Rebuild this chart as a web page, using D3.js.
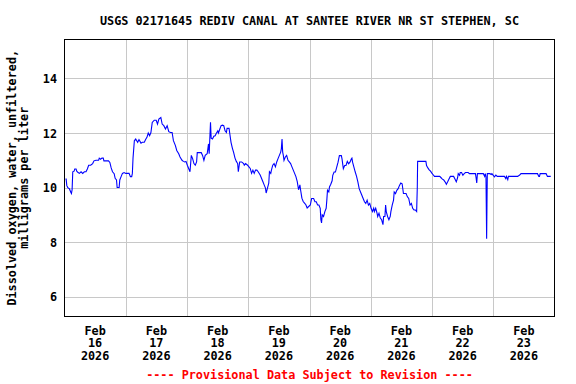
<!DOCTYPE html>
<html>
<head>
<meta charset="utf-8">
<script src="https://cdn.jsdelivr.net/npm/d3@7"></script>
<style>
html,body{margin:0;padding:0;background:#fff;}
svg{display:block;}
text{font-family:"DejaVu Sans Mono","Liberation Mono",monospace;font-weight:bold;}
</style>
</head>
<body>
<div id="chart"></div>
<script>
const title = "USGS 02171645 REDIV CANAL AT SANTEE RIVER NR ST STEPHEN, SC";
const yLabelLines = ["Dissolved oxygen, water, unfiltered,", "milligrams per liter"];
const footer = "---- Provisional Data Subject to Revision ----";
const startDate = "2026-02-16T00:00:00Z";
const dayLabels = ["16","17","18","19","20","21","22","23"];
const yTicks = [6, 8, 10, 12, 14];
const yDomain = [5.29, 15.43];

// hours after Feb 16 00:00
const hours = [
0.39,0.65,0.91,1.30,1.95,2.46,2.72,2.98,3.24,3.76,4.02,4.54,4.80,5.32,5.84,6.49,7.13,7.78,8.43,8.95,
9.47,10.25,11.03,11.55,12.32,13.36,13.62,14.14,14.66,15.18,15.44,16.22,17.25,17.77,18.29,18.81,19.46,19.85,20.37,20.63,
21.41,21.66,22.18,22.70,23.35,24.0,24.65,25.30,25.82,26.33,26.59,26.85,27.37,27.89,28.67,29.19,29.97,30.49,31.27,31.78,
32.30,32.82,33.34,33.86,34.38,35.16,35.93,36.45,36.97,37.75,38.27,38.92,39.57,40.22,40.86,41.51,42.16,42.68,43.46,43.98,
44.76,45.27,46.05,46.57,47.09,47.61,48.13,48.65,49.17,49.69,50.20,50.72,51.24,51.76,52.02,52.80,53.58,54.10,54.62,55.13,
55.91,56.43,56.69,57.21,57.47,57.99,58.51,59.03,59.55,60.07,60.32,60.84,61.36,61.88,62.40,62.92,63.44,63.70,64.48,64.73,
65.25,65.77,66.29,66.81,67.33,67.85,68.11,68.63,69.41,70.18,70.44,70.96,71.74,72.26,72.78,73.30,73.82,74.33,74.85,75.37,
75.89,76.67,77.19,77.71,78.23,78.75,79.01,79.53,80.04,80.30,80.82,81.08,81.60,82.12,82.64,83.16,83.67,84.19,84.71,84.97,
85.23,85.49,85.75,86.01,86.53,87.05,87.57,88.09,88.60,89.12,89.64,90.16,90.68,91.20,91.72,92.24,92.50,93.02,93.53,94.05,
94.57,95.09,96.32,96.84,97.62,98.13,98.65,99.17,99.69,100.2,100.46,100.72,100.98,101.5,102.02,102.53,102.79,103.05,103.57,103.83,
104.34,104.86,105.12,105.64,106.16,106.67,107.19,107.45,107.71,108.48,108.74,109.26,109.78,110.3,110.81,111.33,111.85,112.37,112.62,112.88,
113.4,113.92,114.44,114.95,115.47,115.99,116.51,117.02,117.54,118.06,118.58,119.09,119.61,120.13,120.65,121.16,121.42,121.94,122.46,122.72,
123.23,123.75,124.27,124.79,125.04,125.56,125.82,126.08,126.6,127.12,127.63,127.89,128.41,128.93,129.19,129.7,130.22,130.74,131.26,131.77,
132.29,132.81,133.33,133.84,134.36,134.88,135.4,135.91,136.43,136.95,137.47,137.98,138.24,138.37,139.02,141.09,141.61,141.86,142.38,142.9,
143.42,143.93,144.45,144.97,146.52,147.04,147.56,148.07,148.59,149.11,149.63,150.14,150.66,151.18,151.7,152.47,152.99,153.51,154.03,154.28,
154.8,155.06,155.58,156.1,156.61,157.13,158.17,158.68,159.46,161.01,161.27,161.53,161.79,163.34,164.12,164.63,164.89,165.15,165.41,165.54,
165.67,166.7,167.22,167.48,168.0,168.51,169.03,169.55,172.4,172.92,173.17,173.69,173.95,174.99,177.57,178.35,178.87,185.34,185.86,186.12,
186.38,188.71,189.23,190.52
];
const oxygen = [
10.31,10.31,10.07,10.0,9.95,9.83,9.78,9.92,10.58,10.60,10.68,10.68,10.60,10.55,10.52,10.58,10.52,10.58,10.58,10.68,
10.82,10.82,10.88,10.98,11.0,11.0,11.08,11.04,11.08,11.08,10.98,10.98,10.98,10.92,10.72,10.58,10.51,10.34,10.28,10.0,
10.0,10.28,10.40,10.52,10.55,10.52,10.52,10.52,10.40,10.40,10.52,11.08,11.72,11.78,11.66,11.76,11.63,11.66,11.66,11.76,
11.84,12.0,11.90,12.02,12.39,12.47,12.47,12.33,12.51,12.57,12.33,12.27,12.15,12.27,12.05,12.02,12.02,11.72,11.54,11.36,
11.24,11.12,11.0,10.96,10.94,10.96,10.82,10.70,10.58,11.18,11.06,10.88,10.82,10.94,11.28,11.28,11.28,11.18,11.0,11.18,
11.24,11.60,11.24,12.39,11.81,11.78,11.88,11.90,12.0,12.08,12.0,12.14,12.27,12.29,12.27,12.08,12.02,12.17,12.17,12.0,
11.66,11.45,11.28,11.08,10.96,10.88,10.58,10.94,10.94,10.88,10.82,10.88,10.82,10.76,10.70,10.52,10.64,10.52,10.64,10.64,
10.58,10.46,10.34,10.22,10.10,9.98,9.80,9.98,10.16,10.58,10.52,10.64,10.82,10.88,10.76,10.94,11.06,11.18,11.30,11.42,
11.78,11.30,11.18,11.0,11.12,11.18,11.0,10.94,10.88,10.76,10.64,10.52,10.40,10.22,9.92,10.10,9.92,9.61,9.49,9.43,
9.37,9.25,9.36,9.60,9.60,9.48,9.48,9.36,9.36,9.24,8.82,8.70,9.0,8.94,9.12,9.24,9.54,9.90,9.84,10.02,
10.12,10.25,10.45,10.57,10.57,10.75,10.93,11.05,11.17,11.17,11.05,10.69,10.81,10.81,10.96,10.87,10.93,11.05,11.08,10.93,
10.75,10.57,10.41,10.21,9.96,9.84,9.72,9.60,9.48,9.42,9.54,9.36,9.42,9.24,9.12,9.24,9.12,9.24,9.06,8.94,
9.06,8.88,8.82,8.64,8.94,8.94,9.36,9.12,8.94,8.82,8.94,9.12,9.36,9.54,9.84,9.78,9.90,9.96,10.08,10.17,
10.14,9.78,9.78,9.78,9.66,9.60,9.36,9.42,9.24,9.18,9.18,9.12,10.02,10.96,10.96,10.96,10.96,10.81,10.72,10.65,
10.60,10.53,10.47,10.41,10.41,10.41,10.36,10.31,10.28,10.21,10.12,10.21,10.31,10.41,10.41,10.41,10.31,10.21,10.36,10.51,
10.45,10.55,10.55,10.45,10.51,10.55,10.55,10.51,10.51,10.51,10.36,10.17,10.51,10.51,10.51,10.41,10.51,10.39,8.12,9.36,
10.51,10.51,10.48,10.51,10.45,10.39,10.46,10.41,10.41,10.33,10.41,10.29,10.41,10.41,10.41,10.46,10.51,10.51,10.41,10.41,
10.51,10.51,10.41,10.41
];

(function () {
  const W = 576, H = 384;
  const pL = 64.5, pR = 554.5, pT = 39.5, pB = 316;
  const t0 = new Date(startDate);
  const hourMs = 3600 * 1000;
  const data = hours.map((h, i) => ({ t: new Date(t0.getTime() + h * hourMs), v: oxygen[i] }));

  const svg = d3.select("#chart").append("svg").attr("width", W).attr("height", H);
  svg.append("rect").attr("width", W).attr("height", H).attr("fill", "#fff");

  const x = d3.scaleUtc().domain([t0, new Date(t0.getTime() + 192 * hourMs)]).range([pL, pR]);
  const y = d3.scaleLinear().domain(yDomain).range([pB, pT]);

  const grid = svg.append("g").attr("shape-rendering", "crispEdges");
  const dayTicks = d3.utcDay.range(new Date(t0.getTime() + 24 * hourMs), new Date(t0.getTime() + 192 * hourMs));
  grid.selectAll("line.v").data(dayTicks).join("line")
    .attr("x1", d => Math.round(x(d)) + 0.5).attr("x2", d => Math.round(x(d)) + 0.5)
    .attr("y1", pT).attr("y2", pB)
    .attr("stroke", "#c8c8c8").attr("stroke-width", 1);
  grid.selectAll("line.h").data(yTicks).join("line")
    .attr("x1", pL).attr("x2", pR)
    .attr("y1", d => Math.round(y(d)) + 0.5).attr("y2", d => Math.round(y(d)) + 0.5)
    .attr("stroke", "#c8c8c8").attr("stroke-width", 1);

  const line = d3.line().x(d => x(d.t)).y(d => y(d.v));
  svg.append("path").datum(data)
    .attr("d", line).attr("fill", "none")
    .attr("stroke", "#0000ff").attr("stroke-width", 1.1)
    .attr("stroke-linejoin", "miter");

  svg.append("rect").attr("x", pL).attr("y", pT).attr("width", pR - pL).attr("height", pB - pT)
    .attr("fill", "none").attr("stroke", "#000").attr("stroke-width", 1).attr("shape-rendering", "crispEdges");

  const fs = "11.8px";
  svg.selectAll("text.yt").data(yTicks).join("text")
    .attr("x", 57).attr("y", d => y(d) + 4.5)
    .attr("text-anchor", "end").attr("font-size", fs).attr("fill", "#000")
    .text(d => d);

  const noonTicks = dayLabels.map((d, i) => new Date(t0.getTime() + (i * 24 + 12) * hourMs));
  const xl = svg.selectAll("g.xt").data(noonTicks).join("g");
  xl.append("text").attr("x", d => x(d)).attr("y", 334.5).attr("text-anchor", "middle").attr("font-size", fs).text("Feb");
  xl.append("text").attr("x", d => x(d)).attr("y", 347.3).attr("text-anchor", "middle").attr("font-size", fs).text((d, i) => dayLabels[i]);
  xl.append("text").attr("x", d => x(d)).attr("y", 360).attr("text-anchor", "middle").attr("font-size", fs).text("2026");

  svg.append("text").attr("x", (pL + pR) / 2).attr("y", 25).attr("text-anchor", "middle")
    .attr("font-size", fs).text(title);

  const cy = (pT + pB) / 2;
  svg.append("text").attr("transform", `translate(16,${cy}) rotate(-90)`).attr("text-anchor", "middle")
    .attr("font-size", fs).text(yLabelLines[0]);
  svg.append("text").attr("transform", `translate(28,${cy}) rotate(-90)`).attr("text-anchor", "middle")
    .attr("font-size", fs).text(yLabelLines[1]);

  svg.append("text").attr("x", (pL + pR) / 2).attr("y", 378.5).attr("text-anchor", "middle")
    .attr("font-size", fs).attr("fill", "#ff0000").text(footer);
})();
</script>
</body>
</html>
